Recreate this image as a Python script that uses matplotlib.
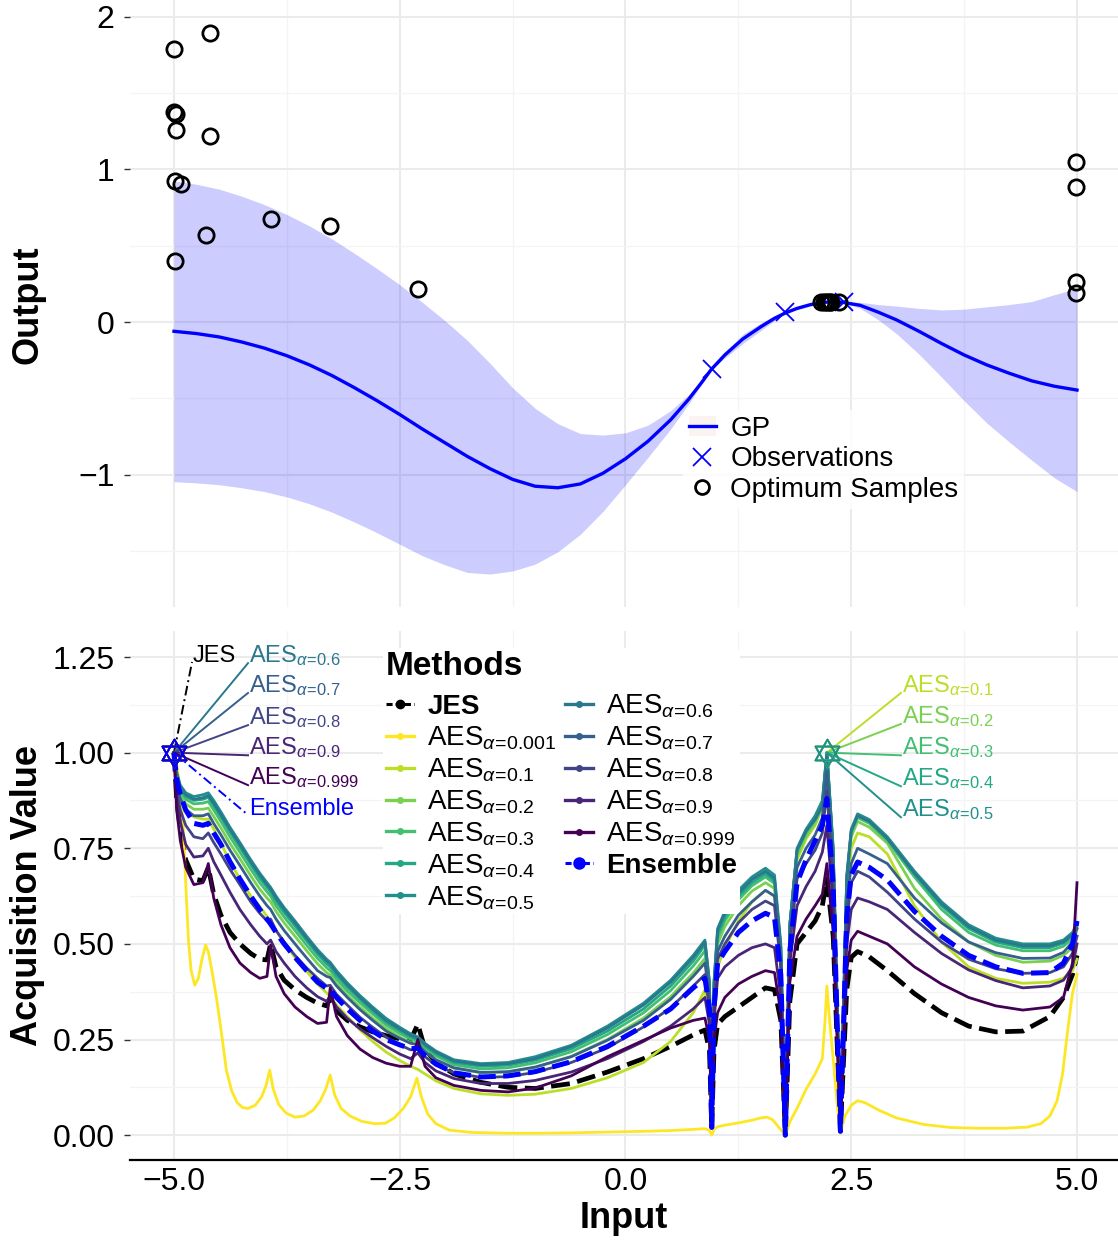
import numpy as np
import matplotlib
matplotlib.use('Agg')
import matplotlib.pyplot as plt
from matplotlib.lines import Line2D
from matplotlib.patches import Patch
from matplotlib.path import Path

plt.rcParams['font.family'] = ['Liberation Sans', 'DejaVu Sans']
plt.rcParams['mathtext.fontset'] = 'custom'
plt.rcParams['mathtext.rm'] = 'Liberation Sans'
plt.rcParams['mathtext.it'] = 'Liberation Sans:italic'
plt.rcParams['mathtext.bf'] = 'Liberation Sans:bold'
plt.rcParams['mathtext.sf'] = 'Liberation Sans'

# ---------------- top panel data ----------------
GP_X = [-5.0, -4.75, -4.5, -4.25, -4.0, -3.75, -3.5, -3.25, -3.0, -2.75, -2.5, -2.25, -2.0,
        -1.75, -1.5, -1.25, -1.0, -0.75, -0.5, -0.25, 0.0, 0.25, 0.5, 0.7, 0.85, 0.95, 1.1,
        1.3, 1.5, 1.65, 1.77, 1.9, 2.05, 2.2, 2.3, 2.4, 2.6, 2.8, 3.0, 3.25, 3.5, 3.75, 4.0,
        4.25, 4.5, 4.75, 5.0]
GP_MEAN = [-0.06, -0.075, -0.097, -0.13, -0.17, -0.22, -0.28, -0.35, -0.43, -0.515, -0.605,
           -0.7, -0.79, -0.88, -0.96, -1.03, -1.075, -1.085, -1.06, -0.99, -0.895, -0.78,
           -0.64, -0.505, -0.39, -0.31, -0.215, -0.11, -0.03, 0.025, 0.06, 0.09, 0.115, 0.13,
           0.132, 0.13, 0.11, 0.065, 0.015, -0.06, -0.14, -0.215, -0.28, -0.335, -0.385,
           -0.42, -0.445]
GP_HALF = [0.985, 0.978, 0.968, 0.955, 0.94, 0.925, 0.91, 0.895, 0.88, 0.865, 0.85, 0.83,
           0.8, 0.76, 0.69, 0.6, 0.51, 0.42, 0.33, 0.25, 0.17, 0.105, 0.06, 0.03, 0.012,
           0.0, 0.02, 0.03, 0.025, 0.015, 0.0, 0.008, 0.01, 0.005, 0.002, 0.0, 0.02, 0.05,
           0.09, 0.15, 0.22, 0.3, 0.38, 0.45, 0.52, 0.6, 0.665]
OBS_X = [0.955, 1.77, 2.42]
OBS_Y = [-0.31, 0.065, 0.13]
OPT_X = [-5.0, -4.60, -5.0, -4.98, -4.98, -4.60, -4.99, -4.92, -3.93, -4.65, -3.27, -4.99,
         -2.30, 4.99, 4.99, 4.99, 4.99, 2.17, 2.20, 2.22, 2.24, 2.26, 2.28, 2.36]
OPT_Y = [1.786, 1.897, 1.377, 1.36, 1.257, 1.218, 0.925, 0.904, 0.675, 0.57, 0.629, 0.40,
         0.218, 1.048, 0.884, 0.262, 0.19, 0.13, 0.132, 0.134, 0.134, 0.133, 0.132, 0.13]

# ---------------- bottom panel data ----------------
XA = [-5.0, -4.97, -4.93, -4.87, -4.78, -4.68, -4.62,
      -4.56, -4.48, -4.38, -4.27, -4.15, -4.05, -3.97, -3.93,
      -3.87, -3.78, -3.66, -3.53, -3.41, -3.31, -3.27,
      -3.2, -3.08, -2.94, -2.8, -2.65, -2.5, -2.38, -2.3,
      -2.22, -2.1, -1.9, -1.6, -1.3, -1.0, -0.6, -0.2, 0.2, 0.5, 0.75,
      0.88, 0.93, 0.955, 0.98, 1.02, 1.1,
      1.25, 1.4, 1.55, 1.65, 1.72, 1.77,
      1.82, 1.9, 2.0, 2.1, 2.18, 2.23, 2.3,
      2.38, 2.45, 2.5, 2.57, 2.7,
      2.9, 3.2, 3.5, 3.8, 4.1, 4.4, 4.7, 4.85, 4.95, 5.0]

JES = [1.0, 0.88, 0.8, 0.72, 0.67, 0.665, 0.7,
       0.63, 0.575, 0.53, 0.5, 0.475, 0.46, 0.458, 0.5,
       0.44, 0.405, 0.38, 0.36, 0.345, 0.338, 0.36,
       0.325, 0.3, 0.283, 0.27, 0.26, 0.252, 0.248, 0.29,
       0.225, 0.19, 0.16, 0.138, 0.125, 0.122, 0.135, 0.165, 0.2, 0.232, 0.262,
       0.275, 0.22, 0.02, 0.22, 0.29, 0.31,
       0.335, 0.36, 0.385, 0.38, 0.3, 0.0,
       0.35, 0.5, 0.53, 0.56, 0.6, 0.67, 0.52,
       0.01, 0.38, 0.465, 0.48, 0.466,
       0.43, 0.37, 0.32, 0.285, 0.27, 0.272, 0.31, 0.36, 0.42, 0.47]

YEL_X = [-5.0, -4.97, -4.93, -4.9, -4.87, -4.84, -4.81, -4.77, -4.73, -4.69, -4.65, -4.62,
         -4.58, -4.53, -4.47, -4.42, -4.36, -4.3, -4.24, -4.18, -4.1, -4.03, -3.98, -3.94,
         -3.9, -3.84, -3.76, -3.66, -3.56, -3.46, -3.38, -3.32, -3.27, -3.22, -3.15, -3.05,
         -2.92, -2.78, -2.66, -2.56, -2.46, -2.38, -2.31, -2.26, -2.19, -2.1, -1.95, -1.7,
         -1.3, -1.0, -0.6, -0.2, 0.2, 0.5, 0.75, 0.88, 0.93, 0.955, 0.98, 1.02, 1.1, 1.25,
         1.4, 1.5, 1.57, 1.63, 1.7, 1.77, 1.82, 1.9, 2.0, 2.1, 2.18, 2.21, 2.23, 2.26, 2.3,
         2.34, 2.38, 2.43, 2.5, 2.57, 2.65, 2.8, 3.0, 3.3, 3.6, 3.9, 4.2, 4.45, 4.6, 4.7,
         4.78, 4.84, 4.9, 4.95, 5.0]
AES_0001 = [1.0, 0.97, 0.9, 0.82, 0.66, 0.51, 0.43, 0.392, 0.41, 0.46, 0.497, 0.48,
            0.43, 0.36, 0.26, 0.17, 0.115, 0.085, 0.072, 0.07, 0.078, 0.1, 0.13, 0.17,
            0.12, 0.08, 0.058, 0.047, 0.05, 0.065, 0.09, 0.12, 0.157, 0.105, 0.07, 0.05,
            0.036, 0.03, 0.031, 0.045, 0.07, 0.1, 0.149, 0.1, 0.055, 0.03, 0.013, 0.007,
            0.005, 0.005, 0.006, 0.008, 0.01, 0.012, 0.015, 0.017, 0.012, 0.0, 0.015, 0.022,
            0.026, 0.032, 0.039, 0.045, 0.047, 0.04, 0.02, 0.0, 0.035, 0.07, 0.12, 0.16, 0.2,
            0.3, 0.39, 0.3, 0.2, 0.09, 0.005, 0.05, 0.078, 0.09, 0.085, 0.066, 0.045, 0.028,
            0.02, 0.018, 0.018, 0.021, 0.03, 0.05, 0.09, 0.16, 0.28, 0.37, 0.42]
AES_01 = [0.985, 0.92, 0.876, 0.85, 0.832, 0.826, 0.826,
          0.8, 0.763, 0.715, 0.67, 0.625, 0.598, 0.572, 0.56,
          0.535, 0.505, 0.465, 0.428, 0.395, 0.372, 0.363,
          0.34, 0.31, 0.275, 0.245, 0.217, 0.195, 0.18, 0.172,
          0.16, 0.142, 0.122, 0.108, 0.104, 0.107, 0.122, 0.15, 0.19, 0.245, 0.32,
          0.38, 0.3, 0.02, 0.3, 0.44, 0.49,
          0.56, 0.61, 0.64, 0.625, 0.46, 0.0,
          0.53, 0.72, 0.775, 0.81, 0.855, 1.0, 0.72,
          0.01, 0.63, 0.75, 0.79, 0.78,
          0.735, 0.6, 0.505, 0.44, 0.41, 0.397, 0.4, 0.41, 0.43, 0.46]
AES_02 = [0.985, 0.93, 0.89, 0.866, 0.852, 0.852, 0.855,
          0.833, 0.803, 0.763, 0.723, 0.678, 0.643, 0.62, 0.61,
          0.585, 0.555, 0.52, 0.482, 0.448, 0.425, 0.418,
          0.397, 0.366, 0.335, 0.306, 0.279, 0.257, 0.242, 0.236,
          0.218, 0.197, 0.175, 0.163, 0.165, 0.177, 0.206, 0.25, 0.306, 0.362, 0.424,
          0.462, 0.37, 0.03, 0.37, 0.5, 0.545,
          0.6, 0.638, 0.66, 0.645, 0.47, 0.0,
          0.54, 0.73, 0.78, 0.815, 0.86, 1.0, 0.73,
          0.01, 0.655, 0.78, 0.82, 0.805,
          0.763, 0.645, 0.565, 0.505, 0.47, 0.452, 0.455, 0.47, 0.49, 0.52]
AES_03 = [0.99, 0.935, 0.9, 0.878, 0.866, 0.868, 0.872,
          0.85, 0.82, 0.78, 0.74, 0.695, 0.66, 0.636, 0.625,
          0.6, 0.57, 0.535, 0.496, 0.462, 0.438, 0.43,
          0.408, 0.377, 0.346, 0.317, 0.288, 0.266, 0.251, 0.245,
          0.227, 0.207, 0.184, 0.173, 0.176, 0.189, 0.218, 0.263, 0.32, 0.378, 0.442,
          0.482, 0.38, 0.03, 0.38, 0.515, 0.56,
          0.615, 0.652, 0.675, 0.658, 0.48, 0.0,
          0.55, 0.74, 0.79, 0.825, 0.865, 1.0, 0.74,
          0.01, 0.665, 0.79, 0.83, 0.815,
          0.77, 0.675, 0.59, 0.53, 0.497, 0.482, 0.482, 0.494, 0.514, 0.54]
AES_04 = [0.99, 0.94, 0.905, 0.885, 0.875, 0.878, 0.883,
          0.862, 0.832, 0.793, 0.753, 0.708, 0.672, 0.648, 0.636,
          0.612, 0.582, 0.547, 0.508, 0.473, 0.448, 0.44,
          0.418, 0.387, 0.355, 0.325, 0.295, 0.273, 0.257, 0.25,
          0.233, 0.213, 0.19, 0.18, 0.183, 0.196, 0.226, 0.272, 0.33, 0.39, 0.455,
          0.497, 0.39, 0.03, 0.39, 0.525, 0.57,
          0.624, 0.66, 0.683, 0.665, 0.49, 0.0,
          0.55, 0.745, 0.795, 0.83, 0.87, 1.0, 0.75,
          0.01, 0.67, 0.795, 0.835, 0.82,
          0.775, 0.682, 0.6, 0.54, 0.505, 0.49, 0.49, 0.502, 0.522, 0.548]
AES_05 = [0.99, 0.95, 0.915, 0.895, 0.885, 0.89, 0.895,
          0.875, 0.845, 0.805, 0.765, 0.72, 0.685, 0.66, 0.648,
          0.625, 0.595, 0.56, 0.52, 0.485, 0.46, 0.452,
          0.43, 0.398, 0.365, 0.335, 0.305, 0.282, 0.265, 0.257,
          0.24, 0.22, 0.197, 0.187, 0.19, 0.205, 0.235, 0.285, 0.345, 0.405, 0.47,
          0.51, 0.4, 0.03, 0.4, 0.54, 0.585,
          0.64, 0.675, 0.698, 0.68, 0.5, 0.0,
          0.55, 0.75, 0.8, 0.835, 0.875, 1.0, 0.75,
          0.01, 0.68, 0.8, 0.84, 0.825,
          0.78, 0.69, 0.61, 0.55, 0.515, 0.5, 0.5, 0.51, 0.53, 0.555]
AES_06 = [1.0, 0.945, 0.91, 0.89, 0.878, 0.882, 0.888,
          0.868, 0.838, 0.8, 0.76, 0.715, 0.68, 0.655, 0.644,
          0.62, 0.59, 0.555, 0.515, 0.48, 0.456, 0.448,
          0.425, 0.393, 0.36, 0.33, 0.3, 0.278, 0.261, 0.254,
          0.237, 0.217, 0.194, 0.184, 0.187, 0.2, 0.232, 0.28, 0.34, 0.4, 0.465,
          0.505, 0.4, 0.03, 0.4, 0.535, 0.58,
          0.632, 0.668, 0.69, 0.672, 0.49, 0.0,
          0.55, 0.745, 0.795, 0.825, 0.86, 0.99, 0.74,
          0.01, 0.67, 0.795, 0.835, 0.82,
          0.775, 0.685, 0.605, 0.545, 0.51, 0.495, 0.495, 0.505, 0.525, 0.55]
AES_07 = [1.0, 0.92, 0.88, 0.852, 0.835, 0.835, 0.84,
          0.815, 0.785, 0.745, 0.705, 0.66, 0.625, 0.6, 0.59,
          0.565, 0.535, 0.5, 0.463, 0.43, 0.415, 0.412,
          0.39, 0.36, 0.328, 0.3, 0.272, 0.253, 0.24, 0.237,
          0.218, 0.197, 0.176, 0.164, 0.166, 0.178, 0.205, 0.248, 0.3, 0.355, 0.415,
          0.45, 0.36, 0.025, 0.36, 0.48, 0.52,
          0.575, 0.61, 0.64, 0.625, 0.45, 0.0,
          0.52, 0.7, 0.75, 0.785, 0.83, 0.95, 0.7,
          0.01, 0.6, 0.71, 0.75, 0.735,
          0.71, 0.62, 0.555, 0.505, 0.477, 0.462, 0.463, 0.478, 0.505, 0.54]
AES_08 = [1.0, 0.9, 0.85, 0.81, 0.78, 0.775, 0.79,
          0.765, 0.735, 0.695, 0.655, 0.61, 0.58, 0.56, 0.565,
          0.535, 0.505, 0.47, 0.437, 0.41, 0.39, 0.392,
          0.368, 0.34, 0.308, 0.282, 0.256, 0.236, 0.223, 0.226,
          0.205, 0.183, 0.163, 0.151, 0.153, 0.164, 0.19, 0.228, 0.283, 0.333, 0.39,
          0.42, 0.33, 0.02, 0.33, 0.46, 0.5,
          0.555, 0.59, 0.612, 0.6, 0.44, 0.0,
          0.5, 0.67, 0.71, 0.745, 0.79, 0.9, 0.66,
          0.01, 0.56, 0.66, 0.69, 0.675,
          0.635, 0.565, 0.505, 0.46, 0.435, 0.423, 0.425, 0.44, 0.475, 0.52]
AES_09 = [1.0, 0.88, 0.82, 0.76, 0.727, 0.73, 0.75,
          0.715, 0.68, 0.635, 0.59, 0.55, 0.52, 0.5, 0.51,
          0.48, 0.45, 0.415, 0.385, 0.362, 0.35, 0.362,
          0.335, 0.305, 0.278, 0.255, 0.232, 0.212, 0.2, 0.215,
          0.19, 0.168, 0.148, 0.135, 0.135, 0.143, 0.165, 0.2, 0.245, 0.285, 0.33,
          0.36, 0.29, 0.02, 0.3, 0.41, 0.44,
          0.47, 0.49, 0.5, 0.49, 0.36, 0.0,
          0.45, 0.6, 0.65, 0.69, 0.74, 0.81, 0.6,
          0.01, 0.5, 0.59, 0.62, 0.61,
          0.59, 0.53, 0.475, 0.432, 0.404, 0.385, 0.39, 0.405, 0.44, 0.5]
AES_0999 = [1.0, 0.85, 0.77, 0.7, 0.655, 0.66, 0.71,
            0.62, 0.55, 0.49, 0.45, 0.425, 0.41, 0.415, 0.497,
            0.415, 0.37, 0.335, 0.31, 0.292, 0.295, 0.385,
            0.31, 0.26, 0.225, 0.203, 0.188, 0.18, 0.18, 0.25,
            0.18, 0.15, 0.13, 0.117, 0.113, 0.123, 0.155, 0.205, 0.248, 0.28, 0.3,
            0.306, 0.25, 0.02, 0.25, 0.32, 0.36,
            0.395, 0.415, 0.43, 0.425, 0.32, 0.0,
            0.4, 0.52, 0.565, 0.6, 0.63, 0.71, 0.53,
            0.01, 0.43, 0.51, 0.533, 0.52,
            0.5, 0.44, 0.395, 0.36, 0.338, 0.327, 0.335, 0.36, 0.45, 0.66]
ENSEMBLE = [1.0, 0.93, 0.89, 0.85, 0.815, 0.81, 0.815,
            0.79, 0.76, 0.715, 0.67, 0.625, 0.59, 0.565, 0.552,
            0.53, 0.5, 0.465, 0.43, 0.4, 0.384, 0.38,
            0.36, 0.33, 0.3, 0.272, 0.25, 0.236, 0.226, 0.227,
            0.208, 0.186, 0.163, 0.152, 0.155, 0.166, 0.192, 0.232, 0.285, 0.33, 0.385,
            0.41, 0.33, 0.02, 0.33, 0.45, 0.48,
            0.53, 0.56, 0.58, 0.57, 0.42, 0.0,
            0.48, 0.66, 0.72, 0.77, 0.81, 0.88, 0.65,
            0.01, 0.57, 0.68, 0.714, 0.7,
            0.667, 0.585, 0.52, 0.47, 0.44, 0.423, 0.425, 0.45, 0.5, 0.56]

AES_LEVELS = ['0.001', '0.1', '0.2', '0.3', '0.4', '0.5', '0.6', '0.7', '0.8', '0.9', '0.999']
AES_SERIES = [AES_0001, AES_01, AES_02, AES_03, AES_04, AES_05, AES_06, AES_07, AES_08,
              AES_09, AES_0999]
AES_XS = [YEL_X] + [XA] * 10
AES_COLORS = ['#FDE725', '#BBDF27', '#7AD151', '#43BF71', '#22A884', '#21908C', '#2A788E',
              '#35608D', '#414487', '#482576', '#440154']

# label end points (layout) for the star call-outs
LABEL_POS = {
    'JES': (-4.80, 1.237),
    '0.6': (-4.18, 1.234), '0.7': (-4.18, 1.156), '0.8': (-4.18, 1.072),
    '0.9': (-4.18, 0.993), '0.999': (-4.18, 0.915), 'Ensemble': (-4.18, 0.837),
    '0.1': (3.05, 1.156), '0.2': (3.05, 1.075), '0.3': (3.05, 0.993),
    '0.4': (3.05, 0.912), '0.5': (3.05, 0.831),
}


def aes_label(a):
    return r'AES$_{\alpha\!=\!' + a + r'}$'


fig = plt.figure(figsize=(11.18, 12.40), dpi=100)
fig.patch.set_facecolor('white')
ax1 = fig.add_axes([130 / 1118, 1 - 607 / 1240, 988 / 1118, 607 / 1240])
ax2 = fig.add_axes([130 / 1118, 1 - 1160 / 1240, 988 / 1118, 529 / 1240])

XLIM = (-5.487, 5.454)
for ax in (ax1, ax2):
    ax.set_xlim(*XLIM)
    for s in ax.spines.values():
        s.set_visible(False)
    ax.set_xticks([-5, -2.5, 0, 2.5, 5])
    ax.set_xticks([-3.75, -1.25, 1.25, 3.75], minor=True)
    ax.grid(which='major', color='#ebebeb', lw=1.5)
    ax.grid(which='minor', color='#f4f4f4', lw=0.9)
    ax.set_axisbelow(True)
    ax.tick_params(axis='y', which='major', length=4, width=1, color='#333333',
                   labelsize=23, pad=7, labelcolor='black')
    ax.tick_params(which='minor', length=0)
    ax.tick_params(axis='x', which='major', length=0)

# ---- top panel ----
ax1.set_ylim(-1.866, 2.11)
ax1.set_yticks([-1, 0, 1, 2])
ax1.set_yticks([-1.5, -0.5, 0.5, 1.5], minor=True)
ax1.set_xticklabels([])
gx = np.array(GP_X)
gm = np.array(GP_MEAN)
gh = np.array(GP_HALF)
ax1.fill_between(gx, gm - gh, gm + gh, color='blue', alpha=0.2, lw=0)
ax1.plot(gx, gm, color='blue', lw=2.4)
ax1.plot(OBS_X, OBS_Y, 'x', color='blue', ms=13, mew=1.3)
ax1.plot(OPT_X, OPT_Y, 'o', mfc='none', mec='black', ms=11, mew=2)

h_gp = (Patch(facecolor='#f7e8e2', edgecolor='none', alpha=0.5), Line2D([], [], color='blue', lw=2.4))
h_obs = Line2D([], [], ls='none', marker='x', color='blue', ms=13, mew=1.3)
h_opt = Line2D([], [], ls='none', marker='o', mfc='none', mec='black', ms=10, mew=2)
leg1 = ax1.legend([h_gp, h_obs, h_opt], ['GP', 'Observations', 'Optimum Samples'],
                  loc='upper left', bbox_to_anchor=(683 / 1118, 1 - 410 / 1240),
                  bbox_transform=fig.transFigure, fontsize=20, frameon=True,
                  facecolor='white', edgecolor='none', framealpha=0.85, handlelength=1.0,
                  handletextpad=0.5, labelspacing=0.17, borderpad=0.2, borderaxespad=0)

# ---- bottom panel ----
ax2.set_ylim(-0.065, 1.318)
ax2.set_yticks([0, 0.25, 0.5, 0.75, 1.0, 1.25])
ax2.set_yticklabels(['0.00', '0.25', '0.50', '0.75', '1.00', '1.25'])
ax2.set_yticks([0.125, 0.375, 0.625, 0.875, 1.125], minor=True)
ax2.set_xticklabels(['\u22125.0', '\u22122.5', '0.0', '2.5', '5.0'])
ax2.tick_params(axis='x', labelsize=23, pad=5)
ax2.spines['bottom'].set_visible(True)
ax2.spines['bottom'].set_color('black')
ax2.spines['bottom'].set_linewidth(1.6)

xa = np.array(XA)
ax2.plot(xa, JES, color='black', lw=3.4, ls=(0, (4, 1.6)), zorder=3)
for xs, vals, col in zip(AES_XS, AES_SERIES, AES_COLORS):
    ax2.plot(xs, vals, color=col, lw=2.0, zorder=4)
ax2.plot(xa, ENSEMBLE, color='blue', lw=3.6, ls=(0, (3.5, 1.5)), zorder=5)

# hexagram star marker
star = Path([(0, 1), (-0.866, -0.5), (0.866, -0.5), (0, 1),
             (0, -1), (-0.866, 0.5), (0.866, 0.5), (0, -1)],
            [Path.MOVETO, Path.LINETO, Path.LINETO, Path.CLOSEPOLY,
             Path.MOVETO, Path.LINETO, Path.LINETO, Path.CLOSEPOLY])

all_series = [('JES', XA, JES, 'black')] + \
             list(zip(AES_LEVELS, AES_XS, AES_SERIES, AES_COLORS)) + \
             [('Ensemble', XA, ENSEMBLE, 'blue')]
for key, xs, vals, col in all_series:
    i = int(np.argmax(vals))
    sx, sy = xs[i], vals[i]
    ax2.plot([sx], [sy], ls='none', marker=star, ms=20, mfc='none', mec=col, mew=1.2, zorder=7)
    if key in LABEL_POS:
        ex, ey = LABEL_POS[key]
        ls = '-'
        if key in ('JES', 'Ensemble'):
            ls = (0, (5, 2, 1, 2))
        ax2.plot([sx, ex], [sy, ey], color=col, lw=1.4, ls=ls, zorder=6)
        txt = key if key in ('JES', 'Ensemble') else aes_label(key)
        ax2.text(ex + 0.01, ey - 0.012, txt, color=col, fontsize=17, ha='left', va='bottom',
                 zorder=8)

# legend
handles = [Line2D([], [], color='black', lw=2.2, ls=(0, (2, 1)), marker='o', ms=6)]
labels = ['JES']
for a, col in zip(AES_LEVELS, AES_COLORS):
    handles.append(Line2D([], [], color=col, lw=2.4, marker='o', ms=4))
    labels.append(aes_label(a))
handles.append(Line2D([], [], color='blue', lw=2.2, ls=(0, (2, 1)), marker='o', ms=8))
labels.append('Ensemble')
leg2 = ax2.legend(handles, labels, ncol=2, title='Methods', loc='upper left',
                  bbox_to_anchor=(383 / 1118, 1 - 648 / 1240), bbox_transform=fig.transFigure,
                  fontsize=20, title_fontproperties={'weight': 'bold', 'size': 24},
                  frameon=True, facecolor='white', edgecolor='none', framealpha=1,
                  handlelength=1.0, handletextpad=0.5, labelspacing=0.16, columnspacing=0.3,
                  borderpad=0.1, borderaxespad=0)
leg2._legend_box.align = 'left'
leg2._legend_box.sep = 8
leg2.set_zorder(10)
ltexts = leg2.get_texts()
ltexts[0].set_fontweight('bold')
ltexts[-1].set_fontweight('bold')

# axis titles
fig.text(28 / 1118, 1 - 305 / 1240, 'Output', rotation=90, fontsize=26, fontweight='bold',
         ha='center', va='center')
fig.text(28 / 1118, 1 - 895 / 1240, 'Acquisition Value', rotation=90, fontsize=26,
         fontweight='bold', ha='center', va='center')
fig.text(624 / 1118, 1 - 1218 / 1240, 'Input', fontsize=26, fontweight='bold', ha='center',
         va='center')

fig.savefig('out.png', dpi=100, facecolor='white')
